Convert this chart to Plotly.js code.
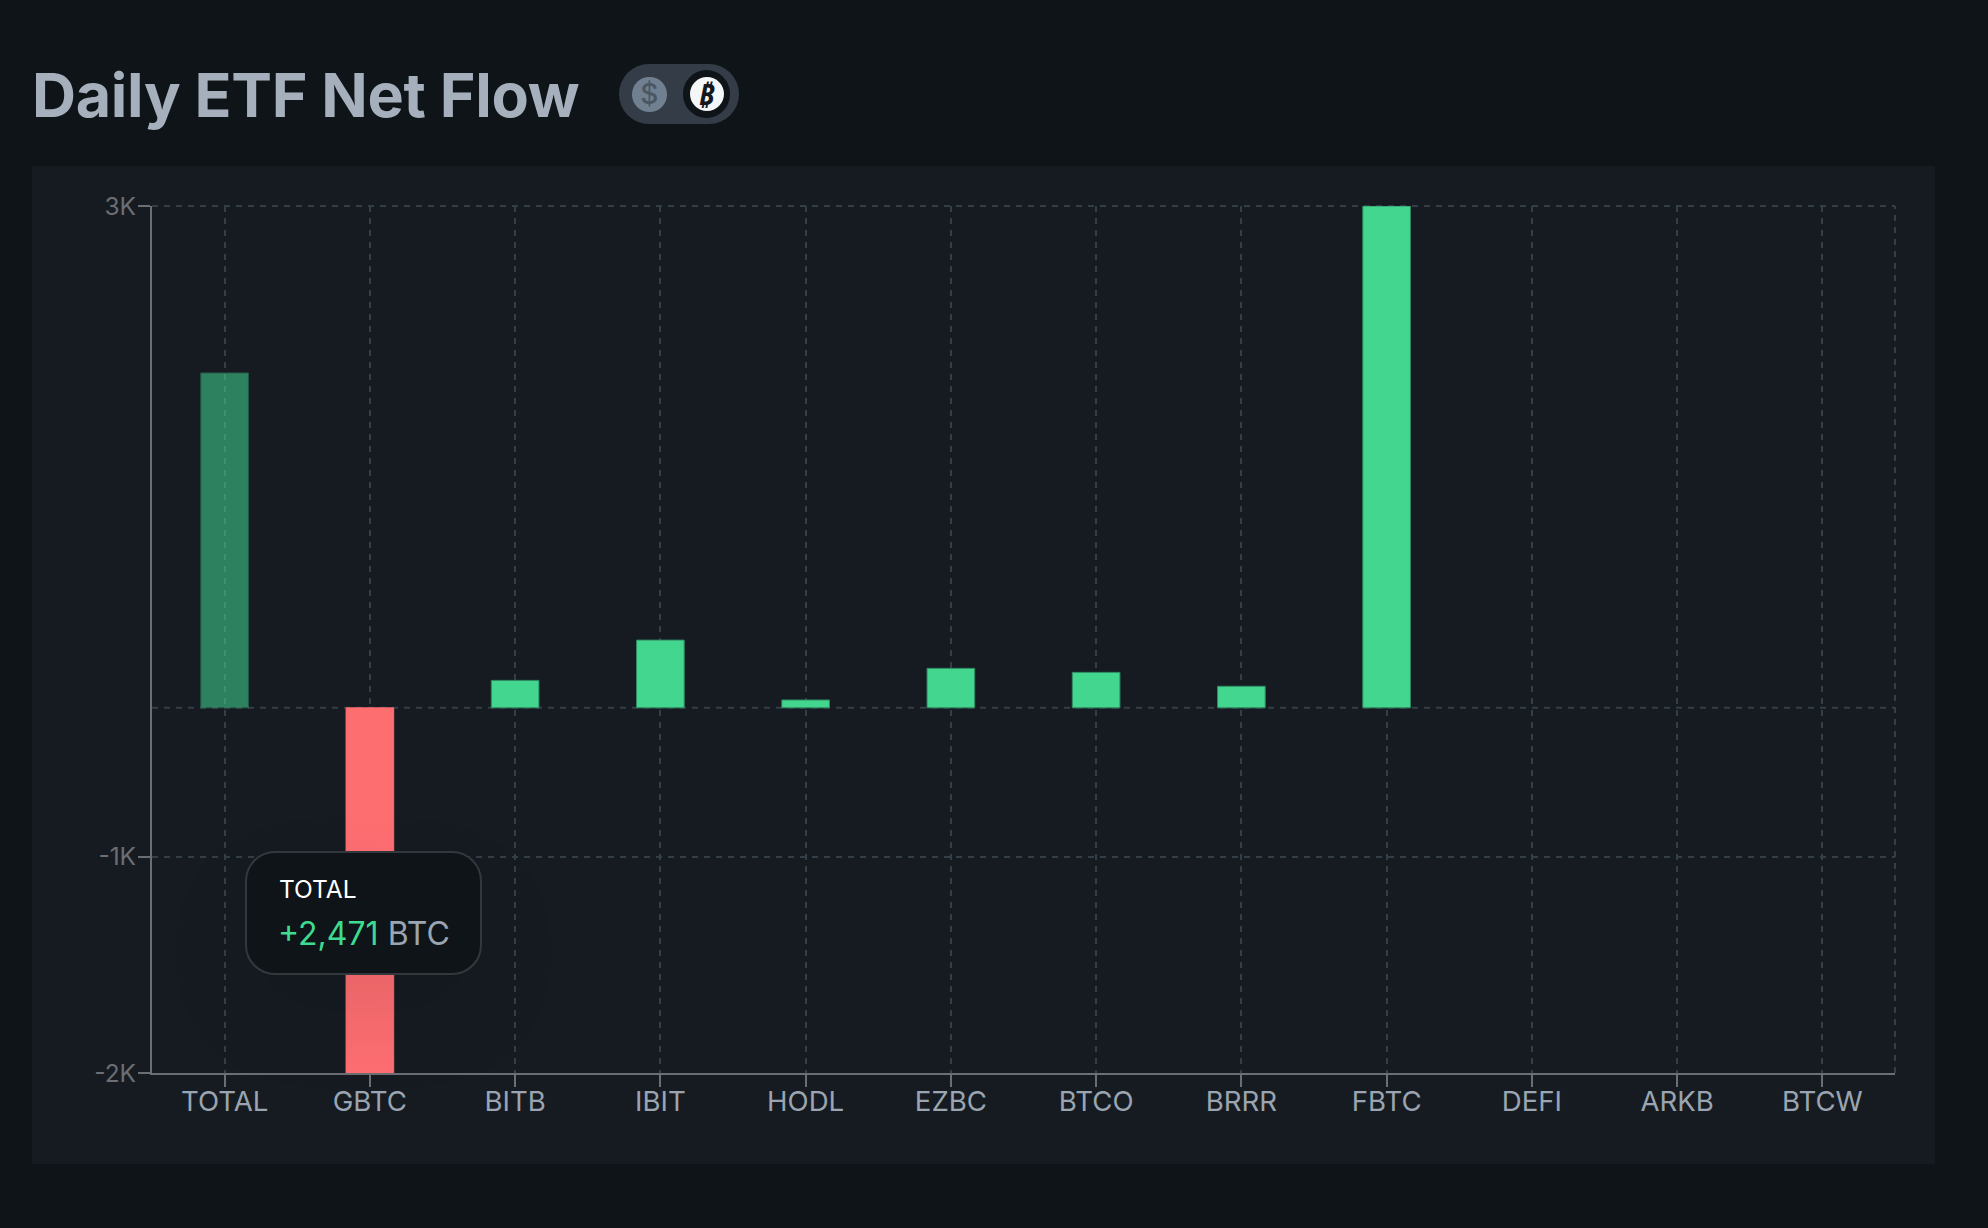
<!DOCTYPE html>
<html>
<head>
<meta charset="utf-8">
<script src="https://cdn.plot.ly/plotly-3.0.1.min.js"></script>
<style>
html,body{margin:0;padding:0;background:#0f1418;width:1988px;height:1228px;overflow:hidden;font-family:Inter,"Noto Sans",sans-serif}
#panel{position:absolute;left:32px;top:166px;width:1902.5px;height:997.5px;background:#161b22}
#chart{position:absolute;left:0;top:0;width:1988px;height:1228px}
#title{position:absolute;left:32px;top:57px;font:700 61px/76px Inter,sans-serif;color:#a6b0bc;letter-spacing:-0.3px;white-space:nowrap}
#pill{position:absolute;left:619px;top:64px;width:120px;height:60px;border-radius:30px;background:#343d47}
.coin{position:absolute;border-radius:50%;text-align:center;box-sizing:border-box}
#usd{left:13px;top:13px;width:34.6px;height:34.6px;background:#708090;color:#4a5663;font:500 28px/34.6px Inter,sans-serif}
#ring{left:64px;top:6.3px;width:47.4px;height:47.4px;background:#0f1418}
#btc{left:70.5px;top:12.8px;width:34.6px;height:34.6px;background:#f5f6f8;color:#14181d;font:italic 700 28px/34.6px "Noto Sans","DejaVu Sans",sans-serif}
#tip{position:absolute;left:245px;top:851px;width:237px;height:124px;box-sizing:border-box;border:2px solid #33383e;border-radius:30px;background:#0f1418;box-shadow:0 40px 90px rgba(0,0,0,.09)}
#tipName{position:absolute;left:32px;top:21px;font:400 24.5px/30px Inter,sans-serif;color:#fff;white-space:nowrap}
#tipVal{position:absolute;left:31px;top:61px;font:400 32px/40px Inter,sans-serif;color:#9aa5b1;white-space:nowrap}
#tipVal b{font-weight:400;color:#3ddc91}
</style>
</head>
<body>
<div id="panel"></div>
<div id="chart"></div>
<div id="title">Daily ETF Net Flow</div>
<div id="pill"><div id="usd" class="coin">$</div><div id="ring" class="coin"></div><div id="btc" class="coin">₿</div></div>
<div id="tip"><div id="tipName">TOTAL</div><div id="tipVal"><b>+2,471</b> BTC</div></div>
<script>
var categories = ['TOTAL','GBTC','BITB','IBIT','HODL','EZBC','BTCO','BRRR','FBTC','DEFI','ARKB','BTCW'];
var netFlow = [2002,-2183,164,405,47,236,212,129,3000,0,0,0];
var yTickValues = [-2183,-890,3000];
var yTickLabels = ['-2K','-1K','3K'];
var GREEN = '#43d68f', RED = '#fd6e71', EDGE = '#2f8a62';
var highlighted = 'TOTAL';

var trace = {
  type:'bar',
  x:categories,
  y:netFlow,
  hoverinfo:'skip',
  marker:{
    color:netFlow.map(function(v){return v<0?RED:GREEN;}),
    opacity:categories.map(function(c){return c===highlighted?0.55:1;}),
    line:{
      color:netFlow.map(function(v){return v<0?RED:EDGE;}),
      width:netFlow.map(function(v){return v===0?0:1;})
    }
  }
};
var GRID = '#343e47', AXIS = '#6b6f73', DASH = '6px,6px';
var layout = {
  width:1988,height:1228,
  paper_bgcolor:'rgba(0,0,0,0)',plot_bgcolor:'rgba(0,0,0,0)',
  margin:{l:152,r:93,t:206,b:155,pad:0},
  showlegend:false,
  bargap:0.672,
  font:{family:'Inter, sans-serif'},
  xaxis:{
    type:'category',range:[-0.5,11.5],
    showgrid:true,gridcolor:GRID,griddash:DASH,gridwidth:2,
    showline:true,linecolor:AXIS,linewidth:2,
    ticks:'outside',ticklen:12,tickwidth:2,tickcolor:AXIS,
    ticklabelstandoff:-9,
    tickfont:{family:'Inter, sans-serif',size:27.6,color:'#9aa5b1'},
    zeroline:false,fixedrange:true
  },
  yaxis:{
    range:[-2183,3000],
    tickmode:'array',tickvals:yTickValues,ticktext:yTickLabels,
    showgrid:true,gridcolor:GRID,griddash:DASH,gridwidth:2,
    showline:true,linecolor:AXIS,linewidth:2,
    ticks:'outside',ticklen:12,tickwidth:2,tickcolor:AXIS,
    ticklabelstandoff:-3,
    tickfont:{family:'Inter, sans-serif',size:24.5,color:'#6b6f73'},
    zeroline:false,fixedrange:true
  },
  shapes:[
    {type:'line',layer:'below',xref:'paper',x0:0,x1:1,yref:'y',y0:0,y1:0,line:{color:GRID,width:2,dash:DASH}},
    {type:'line',layer:'below',xref:'paper',x0:0,x1:1,yref:'paper',y0:1,y1:1,line:{color:GRID,width:2,dash:DASH}},
    {type:'line',layer:'below',xref:'paper',x0:1,x1:1,yref:'paper',y0:0,y1:1,line:{color:GRID,width:2,dash:DASH}}
  ]
};
Plotly.newPlot('chart',[trace],layout,{displayModeBar:false,staticPlot:true});
</script>
</body>
</html>
